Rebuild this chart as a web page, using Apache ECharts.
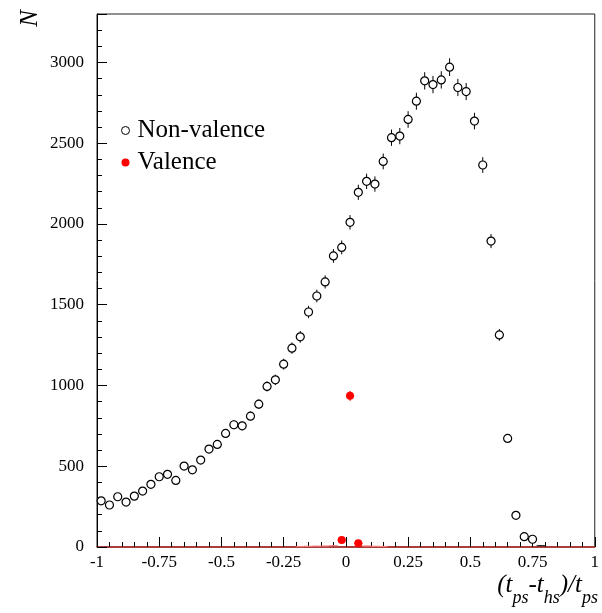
<!DOCTYPE html>
<html>
<head>
<meta charset="utf-8">
<script src="https://cdn.jsdelivr.net/npm/echarts@6/dist/echarts.min.js"></script>
<style>
html,body{margin:0;padding:0;background:#fff;}
#chart{width:602px;height:613px;}
</style>
</head>
<body>
<div id="chart"></div>
<script>
// Bin centres (bin width 1/30) and counts
const binHalfWidth = 1 / 60;
const nonValenceX = [-0.9833,-0.95,-0.9167,-0.8833,-0.85,-0.8167,-0.7833,-0.75,-0.7167,-0.6833,
  -0.65,-0.6167,-0.5833,-0.55,-0.5167,-0.4833,-0.45,-0.4167,-0.3833,-0.35,
  -0.3167,-0.2833,-0.25,-0.2167,-0.1833,-0.15,-0.1167,-0.0833,-0.05,-0.0167,
  0.0167,0.05,0.0833,0.1167,0.15,0.1833,0.2167,0.25,0.2833,0.3167,
  0.35,0.3833,0.4167,0.45,0.4833,0.5167,0.55,0.5833,0.6167,0.65,
  0.6833,0.7167,0.75,0.7833];
const nonValenceN = [286,260,311,278,315,346,388,435,450,412,
  501,478,538,606,635,703,757,750,810,884,
  994,1035,1132,1231,1301,1455,1554,1641,1802,1855,
  2010,2196,2264,2247,2387,2534,2544,2647,2760,2886,
  2863,2892,2971,2845,2820,2637,2365,1894,1313,672,
  196,64,48,8];
const valenceX = [-0.1833,-0.15,-0.1167,-0.0833,-0.05,-0.0167,0.0167,0.05,0.0833,0.1167,0.15];
const valenceN = [3,4,5,6,8,43,936,23,6,4,3];
const xTicks = ['-1','-0.75','-0.5','-0.25','0','0.25','0.5','0.75','1'];
const yTicks = ['0','500','1000','1500','2000','2500','3000'];

const FONT = '"Liberation Serif","DejaVu Serif",serif';
const visibleMin = 15;

function pts(xs, ns) { return xs.map((x, i) => [x, ns[i], Math.sqrt(ns[i])]); }
const nvData = pts(nonValenceX, nonValenceN);
const vData = pts(valenceX, valenceN);

function errRender(color, width) {
  return function (params, api) {
    const x = api.value(0), y = api.value(1), e = api.value(2);
    const top = api.coord([x, y + e]);
    const bot = api.coord([x, Math.max(0, y - e)]);
    const l = api.coord([x - binHalfWidth, y]);
    const r = api.coord([x + binHalfWidth, y]);
    const c = y < visibleMin ? color.faint : color.main;
    return {
      type: 'group',
      children: [
        {type: 'line', shape: {x1: top[0], y1: top[1], x2: bot[0], y2: bot[1]}, style: {stroke: c, lineWidth: width}},
        {type: 'line', shape: {x1: l[0], y1: l[1], x2: r[0], y2: r[1]}, style: {stroke: c, lineWidth: width}}
      ]
    };
  };
}

const chart = echarts.init(document.getElementById('chart'), null, {renderer: 'canvas'});
chart.setOption({
  animation: false,
  backgroundColor: '#fff',
  grid: {left: 97, right: 4, top: 14, bottom: 66, show: true, borderColor: '#222', borderWidth: 1, containLabel: false},
  xAxis: {
    type: 'value', min: -1, max: 1, interval: 0.25,
    axisLine: {show: true, onZero: false, lineStyle: {color: '#b22222', width: 1.5}},
    axisTick: {show: true, inside: true, length: 10, lineStyle: {color: '#000'}},
    minorTick: {show: true, splitNumber: 5, length: 5, lineStyle: {color: '#000'}},
    splitLine: {show: false},
    axisLabel: {margin: 7, fontFamily: FONT, fontSize: 17, color: '#000',
      formatter: v => { const i = Math.round((v + 1) / 0.25); return xTicks[i] !== undefined ? xTicks[i] : ''; }},
  },
  yAxis: {
    type: 'value', min: 0, max: 3300, interval: 500,
    axisLine: {show: true, onZero: false, lineStyle: {color: '#000'}},
    axisTick: {show: true, inside: true, length: 10, lineStyle: {color: '#000'}},
    minorTick: {show: true, splitNumber: 5, length: 5, lineStyle: {color: '#000'}},
    splitLine: {show: false},
    axisLabel: {margin: 13, fontFamily: FONT, fontSize: 17, color: '#000',
      formatter: v => { const i = Math.round(v / 500); return yTicks[i] !== undefined ? yTicks[i] : ''; }},
  },
  legend: {
    orient: 'vertical', left: 116, top: 113, itemGap: 7, itemWidth: 8, itemHeight: 8,
    textStyle: {fontFamily: FONT, fontSize: 25, color: '#000', lineHeight: 24, padding: [0, 0, 0, 3]},
    data: [
      {name: 'Non-valence', icon: 'circle', itemStyle: {color: '#fff', borderColor: '#000', borderWidth: 1}},
      {name: 'Valence', icon: 'circle', itemStyle: {color: '#ff0000', borderWidth: 0}}
    ]
  },
  series: [
    {name: 'Non-valence', type: 'custom', renderItem: errRender({main: '#000', faint: '#000'}, 1),
      data: nvData, z: 2, silent: true},
    {name: 'Non-valence', type: 'scatter', data: nvData, z: 3,
      symbol: 'circle', symbolSize: v => v[1] < visibleMin ? 0 : 8,
      itemStyle: {color: '#fff', borderColor: '#000', borderWidth: 1.2, opacity: 1}},
    {name: 'Valence', type: 'custom', renderItem: errRender({main: '#ff0000', faint: '#f47a7a'}, 1.2),
      data: vData, z: 4, silent: true},
    {name: 'Valence', type: 'scatter', data: vData, z: 5,
      symbol: 'circle', symbolSize: v => v[1] < visibleMin ? 0 : 8,
      itemStyle: {color: '#ff0000', opacity: 1}}
  ],
  graphic: [
    {type: 'text', left: 18, top: 10, rotation: Math.PI / 2,
      style: {text: 'N', font: 'italic 25px ' + FONT, fill: '#000'}},
    {type: 'text', right: 4, top: 573,
      style: {
        text: '{m|(t}{s|ps}{m|-t}{s|hs}{m|)/t}{s|ps}',
        rich: {
          m: {font: 'italic 25px ' + FONT, fill: '#000', lineHeight: 34, verticalAlign: 'top'},
          s: {font: 'italic 18px ' + FONT, fill: '#000', lineHeight: 34, verticalAlign: 'bottom'}
        }
      }}
  ]
});
</script>
</body>
</html>
